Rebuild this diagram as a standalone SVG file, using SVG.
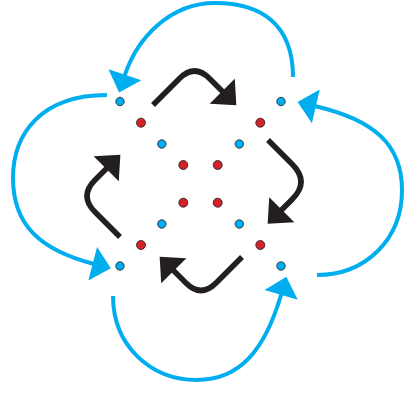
<svg xmlns="http://www.w3.org/2000/svg" width="406" height="405" viewBox="0 0 406 405">
  <style>
    .blue { fill: #00AEEF; stroke: #1a1a1a; stroke-width: 0.8; }
    .red { fill: #D2232A; stroke: #1a1a1a; stroke-width: 0.8; }
    .flow { fill: none; stroke: #231F20; stroke-width: 5.5; stroke-linecap: butt; stroke-linejoin: round; marker-end: url(#headBlack); }
    .loop { fill: none; stroke: #00AEEF; stroke-width: 4; stroke-linecap: butt; marker-end: url(#headBlue); }
  </style>
  <defs>
    <marker id="headBlack" markerUnits="userSpaceOnUse" markerWidth="40" markerHeight="40" viewBox="-2 -18 22 36" refX="1" refY="0" orient="auto">
      <path d="M0,-16 L18,0 L0,16 z" fill="#231F20"/>
    </marker>
    <marker id="headBlue" markerUnits="userSpaceOnUse" markerWidth="40" markerHeight="40" viewBox="-2 -15 18 30" refX="1" refY="0" orient="auto">
      <path d="M0,-13 L14,0 L0,13 z" fill="#00AEEF"/>
    </marker>
  </defs>
  <rect width="406" height="405" fill="#ffffff"/>

  <g id="connectors">
    <path class="flow" d="M153,105 L179.5,78.5 Q194.5,63.5 209.5,78.5 L223,92"/>
    <path class="flow" d="M268,140 L292.25,164.25 Q309.75,181.75 292.25,199.25 L281,210.5"/>
    <path class="flow" d="M242,257 L216,283 Q201,298 186,283 L173,270"/>
    <path class="flow" d="M120,237 L95,212 Q79,196 95,180 L107,168"/>

    <path class="loop" d="M293,77 C293,25 262,3 215,3 C170,3 137,38 124.5,76"/>
    <path class="loop" d="M107,95 C40,95 13,135 13,178 C13,225 40,250 94,264"/>
    <path class="loop" d="M113,296 C113,345 150,380 197,380 C240,380 265,350 281.5,293.5"/>
    <path class="loop" d="M317,275 C365,275 402,240 402,190 C402,145 375,120 314.5,106"/>
  </g>

  <g id="b1"><circle class="blue" cx="120" cy="101.5" r="4.2"/></g>
  <g id="b2"><circle class="blue" cx="281" cy="101.5" r="4.2"/></g>
  <g id="r1"><circle class="red" cx="141" cy="122.7" r="4.5"/></g>
  <g id="r2"><circle class="red" cx="260.3" cy="122.7" r="4.5"/></g>
  <g id="b3"><circle class="blue" cx="161.8" cy="144" r="4.2"/></g>
  <g id="b4"><circle class="blue" cx="239.3" cy="144" r="4.2"/></g>
  <g id="r3"><circle class="red" cx="183.3" cy="165" r="4.5"/></g>
  <g id="r4"><circle class="red" cx="217.7" cy="165" r="4.5"/></g>
  <g id="r5"><circle class="red" cx="183.3" cy="202.7" r="4.5"/></g>
  <g id="r6"><circle class="red" cx="217.7" cy="202.7" r="4.5"/></g>
  <g id="b5"><circle class="blue" cx="161.8" cy="224" r="4.2"/></g>
  <g id="b6"><circle class="blue" cx="239.3" cy="224" r="4.2"/></g>
  <g id="r7"><circle class="red" cx="141" cy="245" r="4.5"/></g>
  <g id="r8"><circle class="red" cx="260.3" cy="245" r="4.5"/></g>
  <g id="b7"><circle class="blue" cx="120" cy="266" r="4.2"/></g>
  <g id="b8"><circle class="blue" cx="281" cy="266" r="4.2"/></g>
</svg>
